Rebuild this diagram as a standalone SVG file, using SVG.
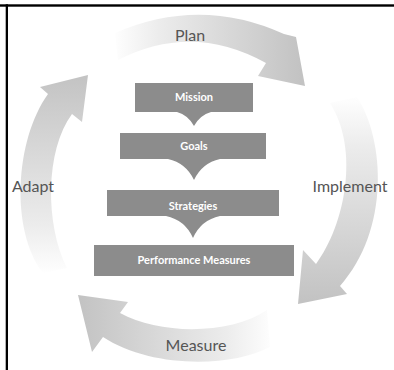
<svg xmlns="http://www.w3.org/2000/svg" width="394" height="370" viewBox="0 0 394 370">
<defs>
<style>
.lbl{font-family:Lato,"Noto Sans","Liberation Sans",sans-serif;font-size:16px;fill:#555555;text-anchor:middle}
.box{fill:#8c8c8c}
.btxt{font-family:Lato,"Noto Sans","Liberation Sans",sans-serif;font-size:11px;font-weight:700;fill:#ffffff;text-anchor:middle}
</style>
<linearGradient id="gPlan" gradientUnits="userSpaceOnUse" x1="112" y1="0" x2="300" y2="0">
<stop offset="0" stop-color="#ffffff"/><stop offset="0.25" stop-color="#ececec"/><stop offset="1" stop-color="#c3c3c3"/>
</linearGradient>
<linearGradient id="gImp" gradientUnits="userSpaceOnUse" x1="0" y1="95" x2="0" y2="300">
<stop offset="0" stop-color="#ffffff"/><stop offset="0.25" stop-color="#ececec"/><stop offset="1" stop-color="#c3c3c3"/>
</linearGradient>
<linearGradient id="gMea" gradientUnits="userSpaceOnUse" x1="275" y1="0" x2="80" y2="0">
<stop offset="0" stop-color="#ffffff"/><stop offset="0.25" stop-color="#ececec"/><stop offset="1" stop-color="#c3c3c3"/>
</linearGradient>
<linearGradient id="gAda" gradientUnits="userSpaceOnUse" x1="0" y1="275" x2="0" y2="75">
<stop offset="0" stop-color="#ffffff"/><stop offset="0.25" stop-color="#ececec"/><stop offset="1" stop-color="#c3c3c3"/>
</linearGradient>
</defs>
<rect x="0" y="0" width="394" height="370" fill="#ffffff"/>
<rect x="0" y="4.3" width="394" height="2.4" fill="#000000"/>
<rect x="5.7" y="4.3" width="2.3" height="366" fill="#000000"/>

<g id="connectors">
<g id="arrow-plan">
<path d="M115,33 Q200,-4 284,34 L296,37 L305,86 L258,76 L266,63 Q192,22 118,60 Z" fill="url(#gPlan)"/>
<text class="lbl" x="190" y="41">Plan</text>
</g>
<g id="arrow-implement">
<path d="M357,97 C385,140 390,230 340,286 L347,294 L298,304 L303,250 L316,264 C345,225 360,150 330,103 Z" fill="url(#gImp)"/>
<text class="lbl" x="350" y="192">Implement</text>
</g>
<g id="arrow-measure">
<path d="M270,347 C230,368 150,368 103,337 L92,352 L78,295 L128,302 L120,313 C160,335 230,335 267,310 Z" fill="url(#gMea)"/>
<text class="lbl" x="196" y="351">Measure</text>
</g>
<g id="arrow-adapt">
<path d="M43,273 C10,230 15,140 48,94 L40,87 L88,75 L82,122 L72,114 C45,150 45,225 67,268 Z" fill="url(#gAda)"/>
<text class="lbl" x="33" y="192">Adapt</text>
</g>
</g>

<g id="mission">
<path class="box" d="M135,83 H253 V112 H211 Q200,115 194,126 Q188,115 177,112 H135 Z"/>
<text class="btxt" x="194" y="101">Mission</text>
</g>
<g id="goals">
<path class="box" d="M120,133 H266 V159 H220 Q202,163 194,180 Q186,163 168,159 H120 Z"/>
<text class="btxt" x="194" y="150">Goals</text>
</g>
<g id="strategies">
<path class="box" d="M107,190 H279 V216 H220 Q201,220 193,238 Q185,220 166,216 H107 Z"/>
<text class="btxt" x="193" y="210">Strategies</text>
</g>
<g id="performance-measures">
<rect class="box" x="94" y="245" width="200" height="31"/>
<text class="btxt" x="194" y="264">Performance Measures</text>
</g>
</svg>
